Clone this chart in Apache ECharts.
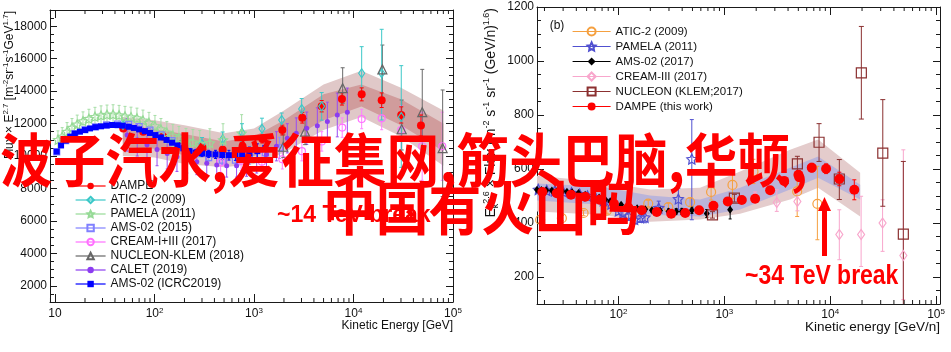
<!DOCTYPE html>
<html>
<head>
<meta charset="utf-8">
<title>proton / helium spectra</title>
<script src="https://cdn.jsdelivr.net/npm/echarts@6/dist/echarts.min.js"></script>
<style>
  html, body { margin: 0; padding: 0; background: #fff; }
  #chart { width: 951px; height: 352px; }
</style>
</head>
<body>
<div id="chart"></div>
<script>
// ---------- left panel: proton flux x E^2.7 ----------
const pDampeE = [48.5, 77, 122, 193, 305, 484, 767, 1215, 1925, 3055, 4786, 7656, 12080, 19190, 30200, 47640];
const pDampeV = [11700, 11500, 11200, 10800, 10500, 10390, 10600, 11050, 11600, 12360, 13070, 13520, 13800, 13440, 12530, 11880];
const pDampeErr = [150, 150, 150, 150, 160, 180, 200, 250, 300, 330, 350, 380, 400, 450, 500, 650];

const pAticE = [48.2, 193, 300, 484, 757, 1202, 1897, 3013, 4786, 12080, 19190, 30200];
const pAticV = [11910, 10940, 10740, 11030, 11440, 11680, 12220, 12900, 13060, 15100, 15100, 12400];
const pAticErr = [300, 350, 400, 450, 550, 650, 430, 640, 850, [13660, 16740], [12220, 17810], [9300, 15570]];

const pPamelaE = [10.7, 11.8, 13.2, 14.8, 16.7, 19.1, 21.9, 25.2, 29.0, 33.3, 38.3, 44.0, 50.5, 58.0, 66.6, 76.5, 87.9, 101, 116, 133, 153, 176, 207, 243, 285, 360, 488, 751];
const pPamelaV = [11000, 11200, 11500, 11750, 11950, 12150, 12300, 12420, 12500, 12550, 12560, 12520, 12450, 12400, 12330, 12200, 12050, 11850, 11650, 11450, 11250, 11100, 10950, 10850, 10750, 10800, 10990, 11400];
const pPamelaErr = [550, 550, 560, 560, 570, 570, 580, 580, 590, 590, 600, 600, 610, 610, 620, 630, 640, 650, 660, 680, 700, 720, 750, 780, 820, 880, 1000, 1150];

const pAms15E = [10.4, 12.8, 15.8, 20, 25.5, 33, 42.5, 55, 70, 90, 116, 150, 195, 260, 350, 480, 650, 900, 1300, 1800];
const pAms15V = [10250, 10950, 11380, 11620, 11800, 11920, 11970, 11950, 11820, 11600, 11300, 10950, 10550, 10150, 9900, 9750, 9750, 9900, 10200, 10500];
const pAms15Err = [60, 60, 60, 60, 60, 60, 70, 70, 80, 90, 100, 120, 140, 170, 210, 260, 320, 400, 500, 650];

const pCreamE = [462, 742, 1200, 1925, 3030, 4800, 7700, 12080, 19190, 30200, 49000, 78000];
const pCreamV = [9600, 9700, 9650, 9800, 10300, 10900, 11750, 12280, 12320, 11600, 10600, 10600];
const pCreamErr = [600, 600, 600, 600, 600, 600, 600, 600, 700, 1500, 2100, 2100];

const pNucleonE = [1968, 3260, 7780, 19500, 30500, 49100, 78700];
const pNucleonV = [10570, 11500, 14180, 15340, 11650, 12700, 10480];
const pNucleonErr = [[9900, 11300], [10700, 12300], [13250, 15440], [13250, 16840], [10370, 13450], [10370, 15340], [7500, 14070]];

const pCaletE = [53, 67, 84, 106, 134, 168, 211, 266, 335, 422, 531, 668, 841, 1064, 1334, 1680, 2160, 2660, 3390, 4330, 5460, 6870, 8670];
const pCaletV = [11300, 11000, 10700, 10400, 10150, 9950, 9800, 9650, 9550, 9450, 9400, 9400, 9500, 9750, 10100, 10600, 11090, 11400, 11710, 11870, 12120, 12530, 12690];
const pCaletErr = [1000, 1000, 1000, 1000, 950, 900, 850, 800, 750, 700, 700, 700, 750, 800, 850, 900, 900, 950, 1000, 1100, 1200, 1350, 1500];

const pAmsIcrcE = [10.4, 11.5, 12.8, 14.2, 15.8, 17.8, 20, 22.5, 25.5, 29, 33, 37.5, 42.5, 48, 55, 62, 70, 80, 90, 102, 116, 132, 150, 170, 195, 225, 260, 300, 350, 410, 480, 560, 650, 760, 900, 1080, 1300];
const pAmsIcrcV = [10270, 10650, 10950, 11200, 11380, 11500, 11600, 11700, 11780, 11830, 11880, 11910, 11900, 11870, 11800, 11730, 11640, 11530, 11420, 11290, 11140, 10990, 10820, 10650, 10470, 10300, 10210, 10160, 10130, 10100, 10060, 10050, 10060, 10080, 10150, 10300, 10500];
const pAmsIcrcErr = [60, 60, 60, 60, 60, 60, 60, 60, 60, 60, 60, 60, 60, 70, 70, 70, 80, 80, 90, 90, 100, 110, 120, 130, 140, 160, 180, 200, 220, 250, 280, 300, 330, 360, 400, 450, 500];

// DAMPE fit bands
const pBandE = [48, 100, 200, 500, 1000, 2000, 5000, 12000, 30000, 80000];
const pBandOuterLo = [10000, 9900, 9500, 9300, 9500, 10200, 11600, 12400, 11200, 9400];
const pBandOuterHi = [12400, 12200, 11900, 11400, 11700, 12800, 14400, 15250, 14200, 12800];
const pBandInnerLo = [10600, 10450, 10050, 9800, 10000, 10800, 12200, 13050, 11900, 10300];
const pBandInnerHi = [11900, 11650, 11350, 10900, 11200, 12200, 13800, 14400, 13500, 12000];

const leftNames = ['DAMPE', 'ATIC-2 (2009)', 'PAMELA (2011)', 'AMS-02 (2015)', 'CREAM-I+III (2017)', 'NUCLEON-KLEM (2018)', 'CALET (2019)', 'AMS-02 (ICRC2019)'];

// ---------- right panel (b): helium flux x Ek^2.6 ----------
const hAticE = [18.2, 29.2, 46.8, 77.6, 191, 296, 475, 750, 1194, 1884, 4878, 7570];
const hAticV = [412, 418, 437, 446, 472, 459, 477, 515, 541, 591, 517, 471];
const hAticErr = [10, 10, 10, 10, 12, 14, 15, 30, 50, 45, [424, 573], [338, 610]];

const hPamelaE = [17.5, 21, 25, 30, 36, 43, 51, 61, 72, 85, 100, 110, 125, 142, 160, 178, 240, 368, 493];
const hPamelaV = [524, 521, 519, 516, 512, 507, 500, 492, 483, 470, 445, 437, 425, 413, 420, 421, 456, 489, 637];
const hPamelaErr = [5, 5, 6, 6, 7, 8, 9, 10, 11, 12, 14, 15, 16, 17, 18, 20, 25, 40, [412, 783]];

const hAmsE = [17, 18.7, 20.8, 23.5, 26.4, 29.4, 32.6, 36.5, 41.9, 48.5, 58, 65.7, 74.9, 83.5, 93, 106, 124, 150, 179, 207, 247, 297, 351, 397, 494, 682, 1135];
const hAmsV = [523, 522, 521, 520, 519, 518, 516, 514, 511, 505, 499, 494, 487, 481, 475, 468, 460, 455, 451, 447, 446, 443, 443, 443, 447, 435, 449];
const hAmsErr = [3, 3, 3, 3, 3, 3, 3, 3, 3, 3, 4, 4, 4, 4, 5, 5, 5, 6, 6, 7, 8, 9, 10, 11, 12, 15, 34];

const hCreamE = [1950, 3130, 4900, 12200, 19600, 31260, 49100];
const hCreamV = [495, 476, 480, 357, 357, 400, 280];
const hCreamErr = [20, [443, 523], 35, [264, 449], [239, 499], [295, 486], [116, 671]];

const hNucleonE = [773, 1245, 4900, 7850, 12200, 19700, 31400, 49100];
const hNucleonV = [430, 492, 619, 699, 563, 956, 659, 359];
const hNucleonErr = [12, 14, [567, 647], [628, 768], [487, 635], [785, 1128], [462, 857], [91, 628]];

const hDampeE = [19.1, 26.1, 35.6, 48.6, 66.4, 90.7, 124, 166, 230, 315, 427, 578, 789, 1079, 1462, 1954, 2709, 3675, 5012, 6700, 9150, 12200, 16900];
const hDampeV = [515, 510, 505, 497, 486, 471, 457, 447, 441, 434, 437, 447, 464, 480, 485, 490, 521, 556, 579, 605, 601, 563, 523];
const hDampeErr = [3, 3, 3, 3, 3, 4, 4, 4, 5, 5, 5, 6, 7, 8, 9, 10, 11, 12, 14, 16, 18, 25, 37];

const hBandE = [17, 67, 199, 590, 1410, 4180, 7690, 19200];
const hBandOuterLo = [443, 431, 405, 413, 434, 487, 531, 424];
const hBandOuterHi = [575, 553, 524, 531, 591, 671, 709, 586];
const hBandInnerLo = [483, 468, 431, 424, 450, 524, 568, 487];
const hBandInnerHi = [546, 535, 502, 487, 531, 605, 646, 542];

const rightNames = ['ATIC-2 (2009)|b', 'PAMELA (2011)|b', 'AMS-02 (2017)', 'CREAM-III (2017)', 'NUCLEON (KLEM;2017)', 'DAMPE (this work)'];

// ---------- helpers ----------
const FONT = 'Liberation Sans, Arial, Helvetica, sans-serif';
const AX = '#1a1a1a';
const STAR = 'path://M0,-10L2.9,-4L9.5,-3.1L4.7,1.5L5.9,8.1L0,5L-5.9,8.1L-4.7,1.5L-9.5,-3.1L-2.9,-4Z';

function pts(E, V) { return E.map((e, i) => [e, V[i]]); }

function withErr(E, V, err) {
  return E.map((e, i) => {
    const d = err[i];
    const lo = Array.isArray(d) ? d[0] : V[i] - d;
    const hi = Array.isArray(d) ? d[1] : V[i] + d;
    return [e, V[i], lo, hi];
  });
}

// markers drawn as a line series with no line, so the legend gets line + symbol
function marker(name, ax, E, V, symbol, size, color, filled) {
  return {
    type: 'line', name, xAxisIndex: ax, yAxisIndex: ax, data: pts(E, V),
    symbol, symbolSize: size, z: 4, silent: true, emphasis: { disabled: true },
    lineStyle: { width: 0, color },
    itemStyle: filled ? { color } : { color: 'rgba(255,255,255,0)', borderColor: color, borderWidth: 1.2 }
  };
}

function errBars(ax, E, V, err, color, cap) {
  return {
    type: 'custom', xAxisIndex: ax, yAxisIndex: ax, data: withErr(E, V, err),
    encode: { x: 0, y: 1 }, clip: true, z: 3, silent: true,
    renderItem(params, api) {
      const x = api.value(0);
      const a = api.coord([x, api.value(2)]);
      const b = api.coord([x, api.value(3)]);
      const st = { stroke: color, lineWidth: 1 };
      return {
        type: 'group', children: [
          { type: 'line', shape: { x1: a[0], y1: a[1], x2: b[0], y2: b[1] }, style: st },
          { type: 'line', shape: { x1: a[0] - cap, y1: a[1], x2: a[0] + cap, y2: a[1] }, style: st },
          { type: 'line', shape: { x1: b[0] - cap, y1: b[1], x2: b[0] + cap, y2: b[1] }, style: st }
        ]
      };
    }
  };
}

function band(ax, E, lo, hi, color, z) {
  return {
    type: 'custom', xAxisIndex: ax, yAxisIndex: ax, z, silent: true, clip: true,
    data: E.map((e, i) => [e, lo[i], hi[i]]), encode: { x: 0, y: [1, 2] },
    renderItem(params, api) {
      if (params.dataIndex !== 0) return null;
      const up = E.map((e, i) => api.coord([e, hi[i]]));
      const dn = E.map((e, i) => api.coord([e, lo[i]])).reverse();
      return { type: 'polygon', shape: { points: up.concat(dn) }, style: { fill: color } };
    }
  };
}

// log minor ticks (2..9 per decade) on bottom and top frame
function logMinor(ax, xmin, xmax, ymin, ymax) {
  const vals = [];
  for (let k = 0; k <= 5; k++) {
    for (let m = 2; m <= 9; m++) {
      const v = m * Math.pow(10, k);
      if (v > xmin && v < xmax) vals.push([v, ymin]);
    }
  }
  return {
    type: 'custom', xAxisIndex: ax, yAxisIndex: ax, data: vals, encode: { x: 0, y: 1 },
    z: 5, silent: true,
    renderItem(params, api) {
      const b = api.coord([api.value(0), ymin]);
      const t = api.coord([api.value(0), ymax]);
      const st = { stroke: AX, lineWidth: 1 };
      return {
        type: 'group', children: [
          { type: 'line', shape: { x1: b[0], y1: b[1], x2: b[0], y2: b[1] - 4 }, style: st },
          { type: 'line', shape: { x1: t[0], y1: t[1], x2: t[0], y2: t[1] + 4 }, style: st }
        ]
      };
    }
  };
}

function powLabel(v) {
  const k = Math.log10(v);
  const r = Math.round(k);
  if (Math.abs(k - r) > 0.01) return '';
  return r === 1 ? '10' : '10{s|' + r + '}';
}
const supRich = { s: { fontSize: 8, lineHeight: 8, verticalAlign: 'top', fontFamily: FONT, color: '#111' } };

function logX(grid, min, max, top, margin) {
  return {
    type: 'log', logBase: 10, gridIndex: grid, min, max, position: top ? 'top' : 'bottom',
    axisLine: { show: true, onZero: false, lineStyle: { color: AX, width: 1 } },
    axisTick: { show: true, inside: true, length: 8, lineStyle: { color: AX } },
    minorTick: { show: false }, splitLine: { show: false },
    axisLabel: top ? { show: false } : {
      show: true, margin, formatter: powLabel, rich: supRich,
      fontFamily: FONT, fontSize: 12, lineHeight: 14, color: '#111'
    }
  };
}

function valY(grid, min, max, right, step, splitNumber) {
  return {
    type: 'value', gridIndex: grid, min, max, splitNumber, position: right ? 'right' : 'left',
    axisLine: { show: true, onZero: false, lineStyle: { color: AX, width: 1 } },
    axisTick: { show: true, inside: true, length: 7, lineStyle: { color: AX } },
    minorTick: { show: true, splitNumber: 4, length: 4, lineStyle: { color: AX } },
    splitLine: { show: false }, minorSplitLine: { show: false },
    axisLabel: right ? { show: false } : {
      show: true, margin: 3, fontFamily: FONT, fontSize: 12, color: '#111',
      formatter: v => (v % step === 0 && v > min && v <= max) ? String(v) : ''
    }
  };
}

const titleRich = {
  s: { fontSize: 8, lineHeight: 9, verticalAlign: 'top', fontFamily: FONT, fill: '#111' },
  d: { fontSize: 8, lineHeight: 9, verticalAlign: 'bottom', fontFamily: FONT, fill: '#111' }
};
const titleRichR = {
  s: { fontSize: 9, lineHeight: 10, verticalAlign: 'top', fontFamily: FONT, fill: '#111' },
  d: { fontSize: 9, lineHeight: 10, verticalAlign: 'bottom', fontFamily: FONT, fill: '#111' }
};

const chart = echarts.init(document.getElementById('chart'));

chart.setOption({
  animation: false,
  backgroundColor: '#fff',
  textStyle: { fontFamily: FONT },
  grid: [
    { left: 50, top: 10, width: 403, height: 292, outerBoundsMode: 'none' },
    { left: 537, top: 7, width: 403, height: 297, outerBoundsMode: 'none' }
  ],
  xAxis: [
    logX(0, 8.9, 100000, false, 5),
    logX(0, 8.9, 100000, true),
    logX(1, 17, 109000, false, 4),
    logX(1, 17, 109000, true)
  ],
  yAxis: [
    valY(0, 1000, 19000, false, 2000, 9),
    valY(0, 1000, 19000, true, 2000, 9),
    valY(1, 100, 1200, false, 200, 5),
    valY(1, 100, 1200, true, 200, 5)
  ],
  legend: [
    {
      orient: 'vertical', left: 75, top: 179, padding: 0, itemGap: 0,
      itemWidth: 30, itemHeight: 8, selectedMode: false,
      lineStyle: { width: 1.2 },
      textStyle: { fontFamily: FONT, fontSize: 12, lineHeight: 14, color: '#111' },
      data: leftNames
    },
    {
      orient: 'vertical', left: 572, top: 24, padding: 0, itemGap: 0,
      itemWidth: 38, itemHeight: 10, selectedMode: false,
      lineStyle: { width: 1.2 },
      formatter: n => n.replace('|b', ''),
      textStyle: { fontFamily: FONT, fontSize: 11.5, lineHeight: 15, color: '#111' },
      data: rightNames
    }
  ],
  series: [
    // left panel
    band(0, pBandE, pBandOuterLo, pBandOuterHi, '#e0c8c8', 1),
    band(0, pBandE, pBandInnerLo, pBandInnerHi, '#d09c9c', 2),
    errBars(0, pPamelaE, pPamelaV, pPamelaErr, '#a6dea6', 1.5),
    errBars(0, pAms15E, pAms15V, pAms15Err, '#8c8cff', 1.5),
    errBars(0, pCaletE, pCaletV, pCaletErr, '#9a4cf2', 1.5),
    errBars(0, pCreamE, pCreamV, pCreamErr, '#ff80ff', 1.5),
    errBars(0, pNucleonE, pNucleonV, pNucleonErr, '#6a6a6a', 2),
    errBars(0, pAticE, pAticV, pAticErr, '#3cc8c8', 2),
    errBars(0, pAmsIcrcE, pAmsIcrcV, pAmsIcrcErr, '#0000ff', 1.5),
    errBars(0, pDampeE, pDampeV, pDampeErr, '#ff0000', 2),
    marker(leftNames[0], 0, pDampeE, pDampeV, 'circle', 8, '#ff0000', true),
    marker(leftNames[1], 0, pAticE, pAticV, 'diamond', [6, 9], '#3cc8c8', false),
    marker(leftNames[2], 0, pPamelaE, pPamelaV, STAR, 9, '#96da96', false),
    marker(leftNames[3], 0, pAms15E, pAms15V, 'rect', 6, '#8080ff', false),
    marker(leftNames[4], 0, pCreamE, pCreamV, 'circle', 7, '#ff70ff', false),
    marker(leftNames[5], 0, pNucleonE, pNucleonV, 'triangle', 9, '#666666', false),
    marker(leftNames[6], 0, pCaletE, pCaletV, 'circle', 5, '#8c3cf0', true),
    marker(leftNames[7], 0, pAmsIcrcE, pAmsIcrcV, 'rect', 6, '#0000ff', true),
    logMinor(0, 8.9, 100000, 1000, 19000),

    // right panel
    band(2, hBandE, hBandOuterLo, hBandOuterHi, '#e4cccc', 1),
    band(2, hBandE, hBandInnerLo, hBandInnerHi, '#bab4da', 2),
    errBars(2, hAticE, hAticV, hAticErr, '#f5a040', 2),
    errBars(2, hPamelaE, hPamelaV, hPamelaErr, '#5050d0', 2),
    errBars(2, hAmsE, hAmsV, hAmsErr, '#000000', 1.5),
    errBars(2, hCreamE, hCreamV, hCreamErr, '#f8a6cc', 2),
    errBars(2, hNucleonE, hNucleonV, hNucleonErr, '#8b3030', 2.5),
    errBars(2, hDampeE, hDampeV, hDampeErr, '#ff0000', 2),
    marker(rightNames[0], 2, hAticE, hAticV, 'circle', 9, '#f5a040', false),
    marker(rightNames[1], 2, hPamelaE, hPamelaV, STAR, 10, '#5050d0', false),
    marker(rightNames[2], 2, hAmsE, hAmsV, 'diamond', [6, 8], '#000000', true),
    marker(rightNames[3], 2, hCreamE, hCreamV, 'diamond', [7, 10], '#f8a6cc', false),
    marker(rightNames[4], 2, hNucleonE, hNucleonV, 'rect', 10, '#8b3030', false),
    marker(rightNames[5], 2, hDampeE, hDampeV, 'circle', 10, '#ff0000', true),
    logMinor(2, 17, 109000, 100, 1200)
  ],
  graphic: [
    // axis titles
    {
      type: 'text', x: 10, y: 11, rotation: Math.PI / 2, z: 10,
      style: {
        text: 'Flux \u00d7 E{s|2.7} [m{s|-2}sr{s|-1}s{s|-1}GeV{s|1.7}]',
        rich: titleRich, fontFamily: FONT, fontSize: 12, lineHeight: 16, fill: '#111',
        align: 'right', verticalAlign: 'middle'
      }
    },
    {
      type: 'text', x: 491, y: 8, rotation: Math.PI / 2, z: 10,
      style: {
        text: 'E{d|k}{s|2.6} \u00d7 Flux (m{s|-2} s{s|-1} sr{s|-1} (GeV/n){s|1.6})',
        rich: titleRichR, fontFamily: FONT, fontSize: 14, lineHeight: 18, fill: '#111',
        align: 'right', verticalAlign: 'middle'
      }
    },
    {
      type: 'text', x: 453, y: 326, z: 10,
      style: { text: 'Kinetic Energy [GeV]', fontFamily: FONT, fontSize: 12, fill: '#111', align: 'right', verticalAlign: 'middle' }
    },
    {
      type: 'text', x: 940, y: 327.5, z: 10,
      style: { text: 'Kinetic energy [GeV/n]', fontFamily: FONT, fontSize: 13.5, fill: '#111', align: 'right', verticalAlign: 'middle' }
    },
    {
      type: 'text', x: 557, y: 26, z: 10,
      style: { text: '(b)', fontFamily: FONT, fontSize: 12, fill: '#111', align: 'center', verticalAlign: 'middle' }
    },
    // annotations
    {
      type: 'text', x: 277, y: 216, z: 50,
      style: { text: '~14 TeV break', fontFamily: FONT, fontSize: 23, fontWeight: 'bold', fill: '#ff0000', verticalAlign: 'middle' }
    },
    {
      type: 'text', x: 745, y: 276, scaleX: 0.82, z: 50,
      style: { text: '~34 TeV break', fontFamily: FONT, fontSize: 28, fontWeight: 'bold', fill: '#ff0000', verticalAlign: 'middle' }
    },
    {
      type: 'line', z: 50,
      shape: { x1: 824.5, y1: 256, x2: 824.5, y2: 208 },
      style: { stroke: '#ff0000', lineWidth: 5 }
    },
    {
      type: 'polygon', z: 50,
      shape: { points: [[818, 211], [831, 211], [824.5, 197]] },
      style: { fill: '#ff0000' }
    },
    // overlay caption
    {
      type: 'text', x: 0, y: 160, scaleX: 0.91, z: 100,
      style: {
        text: '波子汽水,爱征集网,筋头巴脑,华顿,', fill: '#ff0000',
        fontFamily: '"Noto Sans CJK SC", sans-serif', fontSize: 58, fontWeight: 'bold', verticalAlign: 'middle'
      }
    },
    {
      type: 'text', x: 323, y: 208, scaleX: 0.91, z: 100,
      style: {
        text: '中国有火山吗', fill: '#ff0000',
        fontFamily: '"Noto Sans CJK SC", sans-serif', fontSize: 58, fontWeight: 'bold', verticalAlign: 'middle'
      }
    }
  ]
});
</script>
</body>
</html>
